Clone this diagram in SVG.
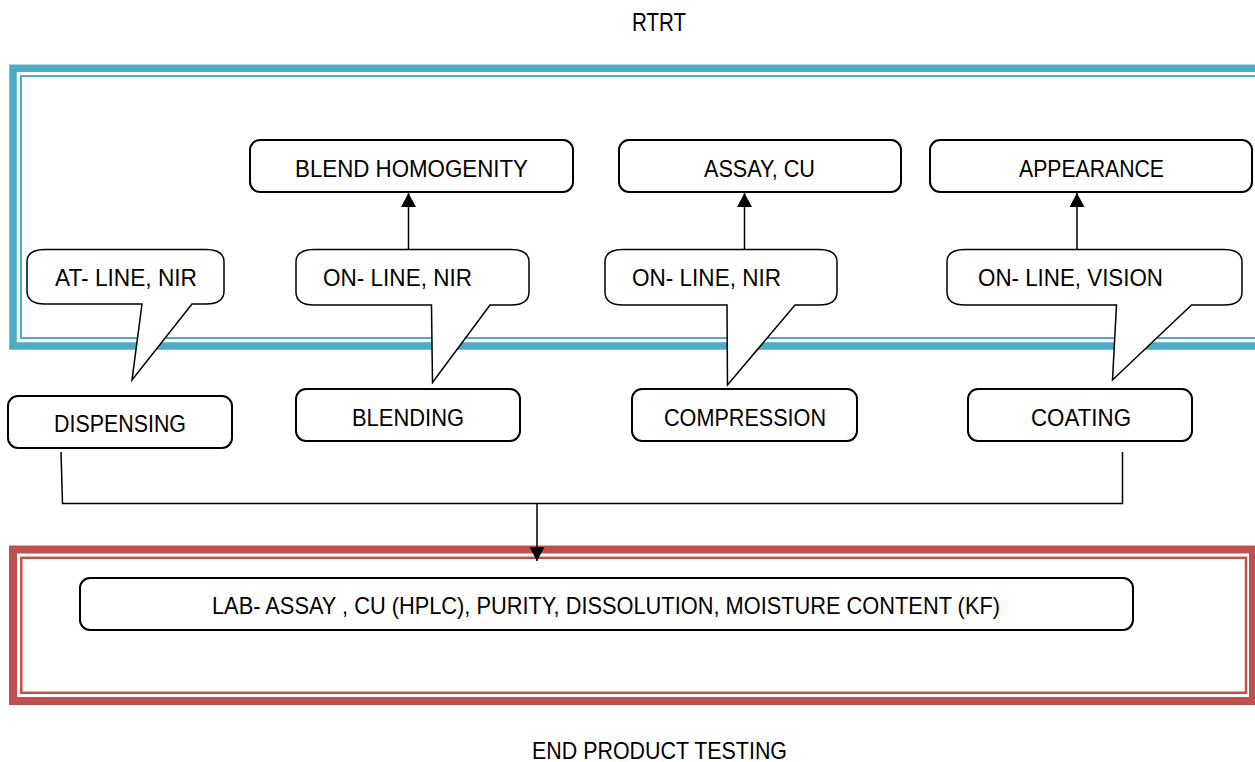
<svg xmlns="http://www.w3.org/2000/svg" width="1255" height="762" viewBox="0 0 1255 762">
  <style>
    .box { fill: #ffffff; stroke: #000000; stroke-width: 2; }
    .callout { fill: #ffffff; stroke: #000000; stroke-width: 1.5; stroke-linejoin: miter; }
    .lbl { font-family: "Liberation Sans", Arial, sans-serif; font-size: 24px; fill: #000000; }
    .conn { fill: none; stroke: #000000; stroke-width: 1.5; }
    .blueThick { fill: none; stroke: #4BACC6; stroke-width: 7.5; }
    .blueThin { fill: none; stroke: #4BACC6; stroke-width: 2; }
    .redThick { fill: none; stroke: #C0504D; stroke-width: 8; }
    .redThin { fill: none; stroke: #C0504D; stroke-width: 2.5; }
  </style>
  <defs>
    <marker id="arrow" markerWidth="14" markerHeight="15" refX="14" refY="7.5" orient="auto" markerUnits="userSpaceOnUse">
      <path d="M0,0 L14,7.5 L0,15 Z" fill="#000000"/>
    </marker>
  </defs>

  <rect width="1255" height="762" fill="#ffffff"/>

  <!-- RTRT frame -->
  <g id="rtrt-frame">
    <rect class="blueThick" x="13" y="68.3" width="1270" height="277.7"/>
    <rect class="blueThin" x="21" y="76" width="1260" height="262"/>
  </g>
  <text class="lbl" x="632" y="31" textLength="54" lengthAdjust="spacingAndGlyphs" style="font-size:26px">RTRT</text>

  <!-- End product testing frame -->
  <g id="ept-frame">
    <rect class="redThick" x="13" y="549.5" width="1240" height="151.5"/>
    <rect class="redThin" x="21.3" y="557.8" width="1224.7" height="135"/>
  </g>
  <text class="lbl" x="532" y="759" textLength="255" lengthAdjust="spacingAndGlyphs">END PRODUCT TESTING</text>

  <!-- Connectors -->
  <g id="connectors">
    <line class="conn" x1="408.5" y1="249" x2="408.5" y2="193" marker-end="url(#arrow)"/>
    <line class="conn" x1="744.5" y1="249" x2="744.5" y2="193" marker-end="url(#arrow)"/>
    <line class="conn" x1="1077" y1="249" x2="1077" y2="193" marker-end="url(#arrow)"/>
    <polyline class="conn" points="61,452 62.5,503.5 1122.5,503.5 1122.5,452"/>
    <line class="conn" x1="537" y1="503.5" x2="537" y2="561" marker-end="url(#arrow)"/>
  </g>

  <!-- Result boxes -->
  <g id="blend-homogenity">
    <rect class="box" x="250" y="140" width="323" height="52" rx="10"/>
    <text class="lbl" x="295" y="177" textLength="233" lengthAdjust="spacingAndGlyphs">BLEND HOMOGENITY</text>
  </g>
  <g id="assay-cu">
    <rect class="box" x="619" y="140" width="282" height="52" rx="10"/>
    <text class="lbl" x="704" y="177" textLength="111" lengthAdjust="spacingAndGlyphs">ASSAY, CU</text>
  </g>
  <g id="appearance">
    <rect class="box" x="930" y="140" width="322" height="52" rx="10"/>
    <text class="lbl" x="1019" y="177" textLength="145" lengthAdjust="spacingAndGlyphs">APPEARANCE</text>
  </g>

  <!-- Callouts -->
  <g id="callout-at-line">
    <path class="callout" d="M45,249.5 L206,249.5 Q224,249.5 224,262 L224,291 Q224,304 206,304 L192,304 L132,380 L142,304 L45,304 Q27,304 27,291 L27,262 Q27,249.5 45,249.5 Z"/>
    <text class="lbl" x="55" y="286" textLength="142" lengthAdjust="spacingAndGlyphs">AT- LINE, NIR</text>
  </g>
  <g id="callout-blending">
    <path class="callout" d="M314,249.5 L511,249.5 Q529,249.5 529,262 L529,292 Q529,305 511,305 L490,305 L432.5,382.5 L431.5,305 L314,305 Q296,305 296,292 L296,262 Q296,249.5 314,249.5 Z"/>
    <text class="lbl" x="323" y="286" textLength="149" lengthAdjust="spacingAndGlyphs">ON- LINE, NIR</text>
  </g>
  <g id="callout-compression">
    <path class="callout" d="M623,249.5 L819,249.5 Q837,249.5 837,262 L837,292 Q837,305 819,305 L795,305 L727.5,385 L727,305 L623,305 Q605,305 605,292 L605,262 Q605,249.5 623,249.5 Z"/>
    <text class="lbl" x="632" y="286" textLength="149" lengthAdjust="spacingAndGlyphs">ON- LINE, NIR</text>
  </g>
  <g id="callout-coating">
    <path class="callout" d="M965,249.5 L1224,249.5 Q1242,249.5 1242,262 L1242,292 Q1242,305 1224,305 L1191.5,305 L1112.5,380 L1116.5,305 L965,305 Q947,305 947,292 L947,262 Q947,249.5 965,249.5 Z"/>
    <text class="lbl" x="978" y="286" textLength="185" lengthAdjust="spacingAndGlyphs">ON- LINE, VISION</text>
  </g>

  <!-- Process steps -->
  <g id="dispensing">
    <rect class="box" x="8" y="396" width="224" height="52" rx="10"/>
    <text class="lbl" x="54" y="432" textLength="132" lengthAdjust="spacingAndGlyphs">DISPENSING</text>
  </g>
  <g id="blending">
    <rect class="box" x="296" y="389" width="224" height="52" rx="10"/>
    <text class="lbl" x="352" y="426" textLength="112" lengthAdjust="spacingAndGlyphs">BLENDING</text>
  </g>
  <g id="compression">
    <rect class="box" x="632" y="389" width="225" height="52" rx="10"/>
    <text class="lbl" x="664" y="426" textLength="162" lengthAdjust="spacingAndGlyphs">COMPRESSION</text>
  </g>
  <g id="coating">
    <rect class="box" x="968" y="389" width="224" height="52" rx="10"/>
    <text class="lbl" x="1031" y="426" textLength="100" lengthAdjust="spacingAndGlyphs">COATING</text>
  </g>

  <!-- Laboratory testing -->
  <g id="lab-testing">
    <rect class="box" x="80" y="578" width="1053" height="52" rx="10"/>
    <text class="lbl" x="212" y="614" textLength="788" lengthAdjust="spacingAndGlyphs">LAB- ASSAY , CU (HPLC), PURITY, DISSOLUTION, MOISTURE CONTENT (KF)</text>
  </g>
</svg>
